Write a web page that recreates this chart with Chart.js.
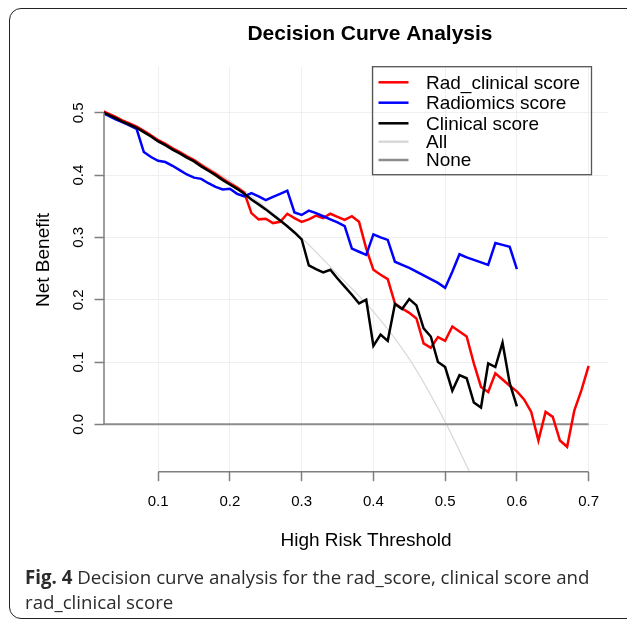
<!DOCTYPE html>
<html>
<head>
<meta charset="UTF-8" />
<title>Decision Curve Analysis</title>
<script src="https://cdn.jsdelivr.net/npm/chart.js"></script>
<style>
  html, body { margin: 0; padding: 0; background: #fff; }
  #wrap { position: relative; width: 627px; height: 622px; overflow: hidden; }
  #frame {
    position: absolute; left: 9px; top: 8px; width: 640px; height: 611px;
    border: 1.5px solid #222; border-radius: 12px; box-sizing: border-box;
  }
  canvas { position: absolute; left: 0; top: 0; }
  #caption {
    position: absolute; left: 25px; top: 564px; width: 585px;
    font-family: 'Open Sans', 'Noto Sans', sans-serif; font-size: 18.7px;
    line-height: 25px; color: #2b2b2b;
  }
  #caption b { font-weight: 700; }
</style>
</head>
<body>
<div id="wrap">
  <div id="frame"></div>
  <canvas id="dca" width="627" height="622"></canvas>
  <div id="caption"><b>Fig. 4</b> Decision curve analysis for the rad_score, clinical score and rad_clinical score</div>
</div>

<script>
// ----- data -----
const thresholds = [
  0.02, 0.03, 0.04, 0.05, 0.06, 0.07, 0.08, 0.09, 0.10, 0.11, 0.12, 0.13, 0.14, 0.15, 0.16, 0.17, 0.18, 0.19, 0.20,
  0.21, 0.22, 0.23, 0.24, 0.25, 0.26, 0.27, 0.28, 0.29, 0.30, 0.31, 0.32, 0.33, 0.34, 0.35, 0.36, 0.37, 0.38, 0.39,
  0.40, 0.41, 0.42, 0.43, 0.44, 0.45, 0.46, 0.47, 0.48, 0.49, 0.50, 0.51, 0.52, 0.53, 0.54, 0.55, 0.56, 0.57, 0.58,
  0.59, 0.60, 0.61, 0.62, 0.63, 0.64, 0.65, 0.66, 0.67, 0.68, 0.69, 0.70
];

const radClinical = [
  0.504, 0.499, 0.494, 0.488, 0.483, 0.478, 0.471, 0.464, 0.456, 0.450, 0.443, 0.437, 0.430, 0.424, 0.416, 0.409, 0.402, 0.394, 0.387,
  0.380, 0.372, 0.339, 0.329, 0.330, 0.323, 0.325, 0.338, 0.331, 0.325, 0.329, 0.335, 0.331, 0.338, 0.333, 0.328, 0.334, 0.325, 0.282,
  0.248, 0.240, 0.233, 0.194, 0.186, 0.179, 0.170, 0.130, 0.123, 0.140, 0.134, 0.157, 0.149, 0.141, 0.098, 0.060, 0.052, 0.082, 0.072,
  0.062, 0.053, 0.040, 0.020, -0.026, 0.020, 0.012, -0.026, -0.036, 0.022, 0.055, 0.094
];

const radiomics = [
  0.501, 0.496, 0.490, 0.485, 0.480, 0.474, 0.437, 0.429, 0.423, 0.421, 0.415, 0.408, 0.401, 0.396, 0.394, 0.387, 0.381, 0.377, 0.378,
  0.370, 0.366, 0.371, 0.366, 0.360, 0.365, 0.370, 0.375, 0.340, 0.336, 0.343, 0.339, 0.334, 0.329, 0.324, 0.318, 0.282, 0.277, 0.272,
  0.305, 0.300, 0.296, 0.261, 0.256, 0.251, 0.245, 0.239, 0.233, 0.227, 0.219, 0.245, 0.273, 0.268, 0.264, 0.260, 0.256, 0.291, 0.288,
  0.285, 0.249
];

const clinical = [
  0.502, 0.497, 0.492, 0.486, 0.481, 0.476, 0.469, 0.462, 0.454, 0.448, 0.441, 0.435, 0.428, 0.422, 0.414, 0.407, 0.400, 0.392, 0.385,
  0.378, 0.370, 0.361, 0.353, 0.345, 0.336, 0.327, 0.318, 0.308, 0.297, 0.255, 0.249, 0.244, 0.248, 0.234, 0.221, 0.208, 0.194, 0.200,
  0.126, 0.144, 0.134, 0.193, 0.185, 0.201, 0.191, 0.154, 0.141, 0.100, 0.092, 0.054, 0.079, 0.074, 0.035, 0.027, 0.098, 0.092, 0.131,
  0.066, 0.029
];

const allThresholds = [0.02, 0.05, 0.10, 0.15, 0.20, 0.25, 0.30, 0.35, 0.40, 0.45, 0.50, 0.55];
const treatAll = [0.499, 0.484, 0.457, 0.426, 0.391, 0.348, 0.299, 0.241, 0.181, 0.105, 0.004, -0.115];

const noneThresholds = [0.02, 0.70];
const treatNone = [0, 0];

const xTicks = [0.1, 0.2, 0.3, 0.4, 0.5, 0.6, 0.7];
const xTickLabels = ["0.1", "0.2", "0.3", "0.4", "0.5", "0.6", "0.7"];
const yTicks = [0.0, 0.1, 0.2, 0.3, 0.4, 0.5];
const yTickLabels = ["0.0", "0.1", "0.2", "0.3", "0.4", "0.5"];

const seriesNames = ["Rad_clinical score", "Radiomics score", "Clinical score", "All", "None"];
const seriesColors = ["#ff0000", "#0000ff", "#000000", "#d9d9d9", "#8c8c8c"];

// ----- helpers -----
const toPoints = (xs, ys) => ys.map((y, i) => ({ x: xs[i], y }));
const FONT = "'Liberation Sans', Arial, Helvetica, sans-serif";

// R-style axes, labels, title and legend box
const rStyle = {
  id: "rStyle",
  afterDraw(chart) {
    const { ctx, chartArea: a, scales } = chart;
    const xs = scales.x, ys = scales.y;
    ctx.save();

    // axis lines (only between first and last tick, as base R does)
    ctx.strokeStyle = "#7f7f7f";
    ctx.lineWidth = 1.5;
    ctx.beginPath();
    ctx.moveTo(a.left, ys.getPixelForValue(yTicks[0]));
    ctx.lineTo(a.left, ys.getPixelForValue(yTicks[yTicks.length - 1]));
    ctx.moveTo(xs.getPixelForValue(xTicks[0]), a.bottom);
    ctx.lineTo(xs.getPixelForValue(xTicks[xTicks.length - 1]), a.bottom);
    ctx.stroke();

    ctx.fillStyle = "#000";
    ctx.textAlign = "center";
    ctx.textBaseline = "middle";

    // x tick labels
    ctx.font = "15px " + FONT;
    xTicks.forEach((v, i) => ctx.fillText(xTickLabels[i], xs.getPixelForValue(v), a.bottom + 30));

    // y tick labels (rotated)
    yTicks.forEach((v, i) => {
      ctx.save();
      ctx.translate(a.left - 25, ys.getPixelForValue(v));
      ctx.rotate(-Math.PI / 2);
      ctx.fillText(yTickLabels[i], 0, 0);
      ctx.restore();
    });

    // axis titles
    ctx.font = "19px " + FONT;
    ctx.fillText("High Risk Threshold", 366, a.bottom + 69);
    ctx.save();
    ctx.translate(44, 260);
    ctx.rotate(-Math.PI / 2);
    ctx.fillText("Net Benefit", 0, 0);
    ctx.restore();

    // main title
    ctx.font = "bold 21px " + FONT;
    ctx.fillText("Decision Curve Analysis", 370, 34);

    // legend box
    const bx = 372.5, by = a.top, bw = 219, bh = 108;
    ctx.strokeStyle = "#555";
    ctx.lineWidth = 1.3;
    ctx.strokeRect(bx, by, bw, bh);
    const rows = [82.3, 102.7, 123.3, 141.7, 160];
    ctx.font = "19px " + FONT;
    ctx.textAlign = "left";
    seriesNames.forEach((name, i) => {
      ctx.strokeStyle = seriesColors[i];
      ctx.lineWidth = 2.5;
      ctx.beginPath();
      ctx.moveTo(bx + 6, rows[i]);
      ctx.lineTo(bx + 36, rows[i]);
      ctx.stroke();
      ctx.fillStyle = "#000";
      ctx.fillText(name, bx + 53.5, rows[i] + 1);
    });

    ctx.restore();
  }
};

const lineSet = (label, pts, color, width, order, extra) => Object.assign({
  label, data: pts, borderColor: color, backgroundColor: color,
  borderWidth: width, pointRadius: 0, tension: 0, fill: false, order
}, extra || {});

new Chart(document.getElementById("dca"), {
  type: "line",
  data: {
    datasets: [
      lineSet(seriesNames[0], toPoints(thresholds, radClinical), seriesColors[0], 2.5, 3),
      lineSet(seriesNames[1], toPoints(thresholds, radiomics), seriesColors[1], 2.5, 2),
      lineSet(seriesNames[2], toPoints(thresholds, clinical), seriesColors[2], 2.5, 1),
      lineSet(seriesNames[3], toPoints(allThresholds, treatAll), seriesColors[3], 1.2, 5, { cubicInterpolationMode: "monotone" }),
      lineSet(seriesNames[4], toPoints(noneThresholds, treatNone), seriesColors[4], 2, 4)
    ]
  },
  options: {
    responsive: false,
    animation: false,
    events: [],
    layout: { padding: { top: 66.7, right: 19, left: 0, bottom: 0 } },
    plugins: { legend: { display: false }, tooltip: { enabled: false }, title: { display: false } },
    scales: {
      x: {
        type: "linear",
        min: 0.0245,
        max: 0.727,
        afterFit: (s) => { s.height = 150.3; },
        afterBuildTicks: (s) => { s.ticks = xTicks.map((v) => ({ value: v })); },
        border: { display: false },
        ticks: { display: false },
        grid: { color: "#efefef", lineWidth: 1, drawTicks: true, tickLength: 9.5, tickColor: "#7f7f7f", tickWidth: 1.5 }
      },
      y: {
        type: "linear",
        min: -0.076,
        max: 0.574,
        afterFit: (s) => { s.width = 104; },
        afterBuildTicks: (s) => { s.ticks = yTicks.map((v) => ({ value: v })); },
        border: { display: false },
        ticks: { display: false },
        grid: { color: "#efefef", lineWidth: 1, drawTicks: true, tickLength: 9.5, tickColor: "#7f7f7f", tickWidth: 1.5 }
      }
    }
  },
  plugins: [rStyle]
});
</script>
</body>
</html>
